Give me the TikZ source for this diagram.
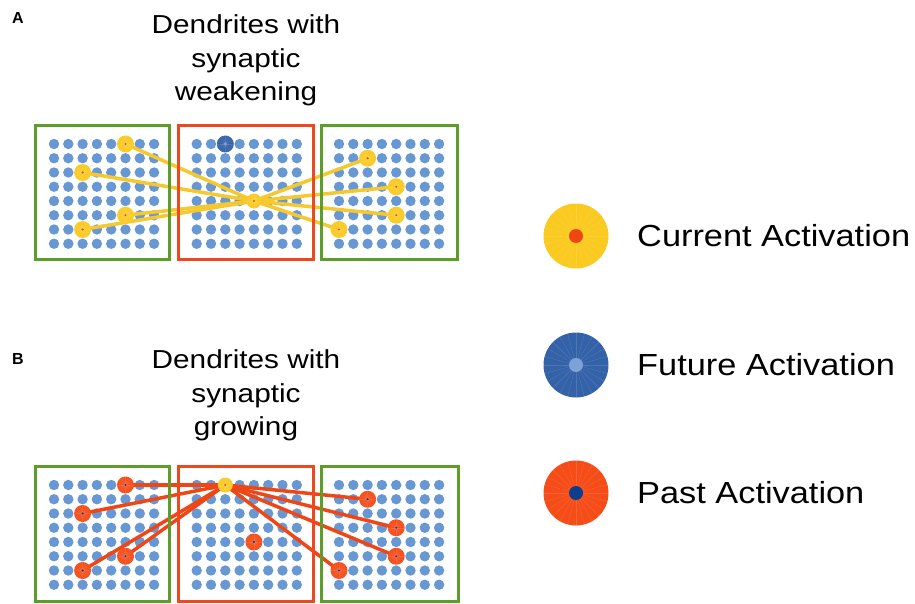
\documentclass[tikz,border=0pt]{standalone}
\usepackage{fontspec}
\setmainfont{Liberation Sans}
\usepackage{graphicx}
\definecolor{gridblue}{RGB}{104,152,212}
\definecolor{boxgreen}{RGB}{92,158,40}
\definecolor{boxred}{RGB}{240,72,30}
\definecolor{actyellow}{RGB}{250,202,32}
\definecolor{lineyellow}{RGB}{246,200,48}
\definecolor{futblue}{RGB}{52,98,168}
\definecolor{futinner}{RGB}{125,162,214}
\definecolor{pastred}{RGB}{245,76,24}
\definecolor{pastinner}{RGB}{12,62,140}
\definecolor{curinner}{RGB}{240,70,20}
\definecolor{linered}{RGB}{240,70,22}
\pgfdeclarelayer{bg}
\pgfdeclarelayer{mid}
\pgfsetlayers{bg,mid,main}
\tikzset{
  gdot/.style={circle, fill=gridblue, minimum size=10.4pt, inner sep=0pt},
  framegreen/.style={draw=boxgreen, line width=3pt},
  framered/.style={draw=boxred, line width=3pt},
  spot/.style n args={4}{circle, fill=#1, minimum size=#3, inner sep=0pt,
    path picture={
      \foreach \a in {0,15,...,345}
        \draw[white, opacity=0.13, line width=0.4pt]
          (path picture bounding box.center) -- ++(\a:40pt);
      \fill[#2] (path picture bounding box.center) circle (#4);
    }},
  cur/.style={spot={actyellow}{curinner}{17pt}{1.2pt}},
  curs/.style={spot={actyellow}{curinner}{15pt}{1.1pt}},
  fut/.style={spot={futblue}{futinner}{17pt}{1.5pt}},
  past/.style={spot={pastred}{pastinner}{17pt}{1.2pt}},
  ylink/.style={draw=lineyellow, line width=3.5pt},
  rlink/.style={draw=linered, line width=3.5pt},
  titletext/.style={anchor=base, inner sep=0pt, font=\fontsize{26}{30}\selectfont},
  legtext/.style={anchor=base west, inner sep=0pt, font=\fontsize{30.5}{34}\selectfont},
  paneltag/.style={anchor=base west, inner sep=0pt, font=\bfseries\fontsize{16}{18}\selectfont},
}
\begin{document}
\begin{tikzpicture}[x=1pt,y=-1pt]
\useasboundingbox (0,0) rectangle (915,604);

% frames
\draw[framegreen] (35,125.5) rectangle (169.3,259.5);
\draw[framered] (178.3,125.5) rectangle (313.3,259.5);
\draw[framegreen] (321.7,125.5) rectangle (457.7,259.5);
\draw[framegreen] (35,466.7) rectangle (169.3,601);
\draw[framered] (178.3,466.7) rectangle (313.3,601);
\draw[framegreen] (321.7,466.7) rectangle (458,601);

% grids
\begin{pgfonlayer}{bg}
\foreach \p/\ox/\oy in {AL/54/144, AM/196.7/144, AR/339/144, BL/54/485, BM/196.7/485, BR/339/485}
  \foreach \c in {0,...,7}
    \foreach \r in {0,...,7}
      \node[gdot] (\p-\c-\r) at ({\ox+14.3*\c},{\oy+14.25*\r}) {};
\end{pgfonlayer}

% panel A spots
\node[cur] (a1) at (AL-5-0) {};
\node[cur] (a2) at (AL-2-2) {};
\node[cur] (a3) at (AL-5-5) {};
\node[cur] (a4) at (AL-2-6) {};
\node[fut] (afut) at (AM-2-0) {};
\node[curs] (ac) at (AM-4-4) {};
\node[cur] (a5) at (AR-2-1) {};
\node[cur] (a6) at (AR-4-3) {};
\node[cur] (a7) at (AR-4-5) {};
\node[cur] (a8) at (AR-0-6) {};

% panel B spots
\node[past] (b1) at (BL-5-0) {};
\node[past] (b2) at (BL-2-2) {};
\node[past] (b3) at (BL-5-5) {};
\node[past] (b4) at (BL-2-6) {};
\node[curs] (bc) at (BM-2-0) {};
\node[past] (bpast) at (BM-4-4) {};
\node[past] (b5) at (BR-2-1) {};
\node[past] (b6) at (BR-4-3) {};
\node[past] (b7) at (BR-4-5) {};
\node[past] (b8) at (BR-0-6) {};

% links
\begin{pgfonlayer}{mid}
\foreach \t in {a1,a2,a3,a4,a5,a6,a7,a8}
  \draw[ylink] (ac.center) -- (\t.center);
\foreach \t in {b1,b2,b3,b4,b5,b6,b7,b8}
  \draw[rlink] (bc.center) -- (\t.center);
\end{pgfonlayer}

% titles
\node[paneltag] (tagA) at (12,23.5) {A};
\node[paneltag] (tagB) at (12,364) {B};
\node[titletext] (ta1) at (246,34) {\scalebox{1.145}[1]{Dendrites with}};
\node[titletext] (ta2) at (246,67.5) {\scalebox{1.145}[1]{synaptic}};
\node[titletext] (ta3) at (246,101) {\scalebox{1.145}[1]{weakening}};
\node[titletext] (tb1) at (246,368.5) {\scalebox{1.145}[1]{Dendrites with}};
\node[titletext] (tb2) at (246,402) {\scalebox{1.145}[1]{synaptic}};
\node[titletext] (tb3) at (246,435) {\scalebox{1.145}[1]{growing}};

% legend
\node[spot={actyellow}{curinner}{65pt}{7pt}] (lcur) at (576,236) {};
\node[spot={futblue}{futinner}{65pt}{7pt}] (lfut) at (576,365) {};
\node[spot={pastred}{pastinner}{65pt}{7pt}] (lpast) at (576,493) {};
\node[legtext] (lcurt) at (637,246.7) {\scalebox{1.126}[1]{Current Activation}};
\node[legtext] (lfutt) at (637,375.5) {\scalebox{1.126}[1]{Future Activation}};
\node[legtext] (lpastt) at (637,503.5) {\scalebox{1.126}[1]{Past Activation}};
\end{tikzpicture}
\end{document}
